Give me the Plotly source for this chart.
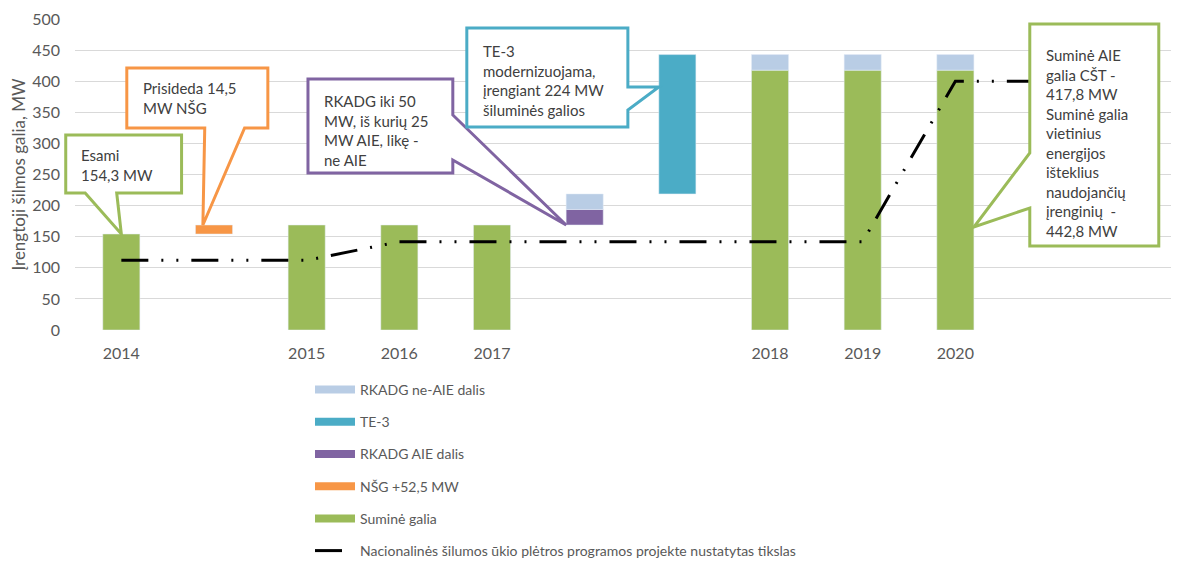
import plotly.graph_objects as go

# ---------------- data ----------------
positions = list(range(12))
tick_labels = ["2014", "", "2015", "2016", "2017", "", "", "2018", "2019", "2020", "", ""]

sumine_x = [0, 2, 3, 4, 7, 8, 9]
sumine = [154.3, 168.8, 168.8, 168.8, 417.8, 417.8, 417.8]

nsg_x = [1]
nsg = [14.5]

rkadg_aie_x = [5]
rkadg_aie = [25]

rkadg_ne_x = [5, 7, 8, 9]
rkadg_ne = [25, 25, 25, 25]

te3_x = [6]
te3 = [224]

target_x = [0, 1, 2, 3, 4, 5, 6, 7, 8, 9, 10]
target = [112, 112, 112, 142, 142, 142, 142, 142, 142, 400, 400]

# bases for floating (stacked) bars, derived from the data
nsg_base = [sumine[0]]
aie_base = [nsg_base[0] + nsg[0]]
ne_base = [aie_base[0] + rkadg_aie[0]] + sumine[4:7]
te3_base = [ne_base[0] + rkadg_ne[0]]

# ---------------- style ----------------
FONT = "Lato"
GREEN = "#9BBB59"
ORANGE = "#F79646"
PURPLE = "#8064A2"
TEAL = "#4BACC6"
LIGHTBLUE = "#B9CDE5"
TXT = "#404040"
AX = "#595959"
BW = 0.4

# the page body has an 8px margin; the figure is offset accordingly
W, H = 1171, 563
ML, MT = 67, 11
PLOT_H = 311
MB = H - MT - PLOT_H
PLOT_W = W - ML

fig = go.Figure()

fig.add_trace(go.Bar(x=sumine_x, y=sumine, width=BW, marker_color=GREEN,
                     name="Suminė galia", showlegend=False, legendgroup="g5"))
fig.add_trace(go.Bar(x=nsg_x, y=nsg, base=nsg_base, width=BW, marker_color=ORANGE,
                     name="NŠG +52,5 MW", showlegend=False, legendgroup="g4"))
fig.add_trace(go.Bar(x=rkadg_aie_x, y=rkadg_aie, base=aie_base, width=BW, marker_color=PURPLE,
                     name="RKADG AIE dalis", showlegend=False, legendgroup="g3"))
fig.add_trace(go.Bar(x=rkadg_ne_x, y=rkadg_ne, base=ne_base, width=BW, marker_color=LIGHTBLUE,
                     name="RKADG ne-AIE dalis", showlegend=False, legendgroup="g1"))
fig.add_trace(go.Bar(x=te3_x, y=te3, base=te3_base, width=BW, marker_color=TEAL,
                     name="TE-3", showlegend=False, legendgroup="g2"))

fig.add_trace(go.Scatter(
    x=target_x, y=target, mode="lines",
    line=dict(color="black", width=3, dash="27px,13px,2px,13px,2px,13px"),
    name="Nacionalinės šilumos ūkio plėtros programos projekte nustatytas tikslas",
    legendrank=6, legendgroup="g6"))

# legend swatches (wide rectangles like the reference)
for nm, col, rk, grp in [("RKADG ne-AIE dalis", LIGHTBLUE, 1, "g1"),
                         ("TE-3", TEAL, 2, "g2"),
                         ("RKADG AIE dalis", PURPLE, 3, "g3"),
                         ("NŠG +52,5 MW", ORANGE, 4, "g4"),
                         ("Suminė galia", GREEN, 5, "g5")]:
    fig.add_trace(go.Scatter(x=[None], y=[None], mode="lines", name=nm,
                             line=dict(color=col, width=8), legendrank=rk,
                             legendgroup=grp))

# ---------------- callouts ----------------
CAT_PX = 92.67
X0 = -0.5
X1 = X0 + PLOT_W / CAT_PX


def px(v):
    return (v - X0) / (X1 - X0)


def py(v):
    return v / 500.0


def poly(points):
    s = "M " + " L ".join(f"{px(a):.5f},{py(b):.5f}" for a, b in points) + " Z"
    return s


callouts = [
    # color, polygon points (data units), text, text x, text y (middle)
    (GREEN,
     [(-0.6, 313.5), (0.65, 313.5), (0.65, 220.3), (-0.05, 220.3), (0, sumine[0]),
      (-0.39, 220.3), (-0.6, 220.3)],
     "Esami<br>154,3 MW", -0.46, 265),
    (ORANGE,
     [(0.059, 421.2), (1.581, 421.2), (1.581, 324.8), (1.33, 324.8),
      (0.88, nsg_base[0] + nsg[0]), (0.90, 324.8), (0.059, 324.8)],
     "Prisideda 14,5<br>MW NŠG", 0.21, 372.2),
    (PURPLE,
     [(2.014, 403.5), (3.577, 403.5), (3.577, 345.7), (4.8, aie_base[0]),
      (3.577, 273.3), (3.577, 252.4), (2.014, 252.4)],
     "RKADG iki 50<br>MW, iš kurių 25<br>MW AIE, likę -<br>ne AIE", 2.16, 321.5),
    (TEAL,
     [(3.728, 485.5), (5.466, 485.5), (5.466, 390.7), (5.8, 390.7),
      (5.466, 353.7), (5.466, 326.4), (3.728, 326.4)],
     "TE-3<br>modernizuojama,<br>įrengiant 224 MW<br>šiluminės galios", 3.88, 401),
    (GREEN,
     [(9.803, 492), (11.195, 492), (11.195, 135), (9.803, 135), (9.803, 196.1),
      (9.2, 165.6), (9.803, 284.6)],
     "Suminė AIE<br>galia CŠT -<br>417,8 MW<br>Suminė galia<br>vietinius<br>energijos<br>"
     "išteklius<br>naudojančių<br>įrenginių  -<br>442,8 MW", 9.955, 300),
]

shapes = []
annotations = []
for col, pts, txt, tx, ty in callouts:
    shapes.append(dict(type="path", xref="paper", yref="paper", path=poly(pts),
                       fillcolor="white", line=dict(color=col, width=3), layer="above"))
    annotations.append(dict(xref="paper", yref="paper", x=px(tx), y=py(ty),
                            xanchor="left", yanchor="middle", align="left",
                            showarrow=False, text=txt,
                            font=dict(family=FONT, size=15, color=TXT)))

fig.update_layout(
    width=W, height=H,
    margin=dict(l=ML, r=0, t=MT, b=MB, autoexpand=False),
    paper_bgcolor="white", plot_bgcolor="white",
    barmode="overlay",
    font=dict(family=FONT, color=AX, size=14),
    shapes=shapes, annotations=annotations,
    showlegend=True,
    legend=dict(x=(302 - ML) / PLOT_W, xanchor="left",
                y=-(366.0 - (MT + PLOT_H)) / PLOT_H, yanchor="top",
                orientation="v", itemwidth=40, tracegroupgap=11,
                font=dict(family=FONT, size=14, color=AX),
                bgcolor="rgba(0,0,0,0)"),
    xaxis=dict(range=[X0, X1], tickmode="array", tickvals=positions, ticktext=tick_labels,
               showgrid=False, zeroline=False, showline=False, ticks="",
               automargin=False, ticklabelstandoff=12,
               tickfont=dict(family=FONT, size=16, color=AX)),
    yaxis=dict(range=[0, 500], dtick=50, showgrid=True, gridcolor="#D9D9D9", gridwidth=1,
               zeroline=False, showline=False, ticks="", ticklabelstandoff=14,
               automargin=False,
               tickfont=dict(family=FONT, size=16, color=AX),
               title=dict(text="Įrengtoji šilmos galia, MW", standoff=6,
                          font=dict(family=FONT, size=17, color=AX))),
)

fig.write_html("out.html")
